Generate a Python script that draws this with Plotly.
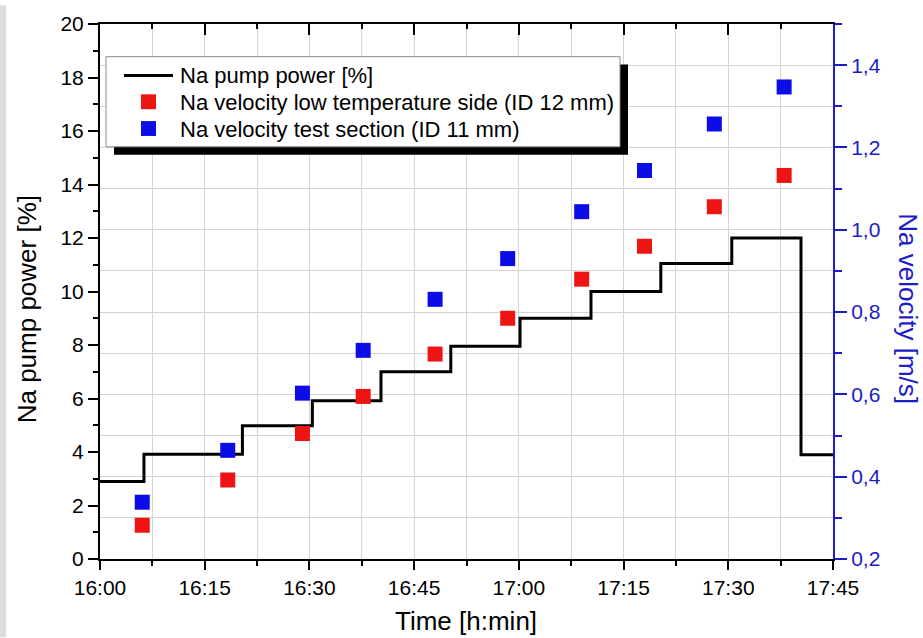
import plotly.graph_objects as go

DAY = "2016-01-01 "

# Pump power step signal (time of each level change, level in %)
pump_time = ["16:00:00", "16:06:18", "16:20:24", "16:30:25", "16:40:15", "16:50:15",
             "17:00:10", "17:10:20", "17:20:20", "17:30:30", "17:40:25", "17:45:00"]
pump_level = [2.9, 3.92, 4.98, 5.92, 7.0, 7.95, 9.0, 10.0, 11.05, 12.0, 3.9, 3.9]

# Velocity measurement times
vel_time = ["16:06:03", "16:18:18", "16:29:00", "16:37:42", "16:48:00",
            "16:58:24", "17:09:00", "17:18:00", "17:28:00", "17:38:00"]
vel_low_temp = [0.282, 0.392, 0.505, 0.595, 0.698, 0.785, 0.880, 0.960, 1.056, 1.132]
vel_test_sec = [0.338, 0.464, 0.603, 0.707, 0.831, 0.930, 1.044, 1.144, 1.257, 1.347]

x_ticks = ["16:00", "16:15", "16:30", "16:45", "17:00", "17:15", "17:30", "17:45"]

series_names = ["Na pump power [%]",
                "Na velocity low temperature side (ID 12 mm)",
                "Na velocity test section (ID 11 mm)"]

FONT = "Liberation Sans, Arial, sans-serif"
RED = "#ee1414"
BLUE = "#0c0ce6"
AXBLUE = "#1c1cc8"
GRID = "#d4d4d4"

pt = [DAY + t for t in pump_time]
vt = [DAY + t for t in vel_time]
xr = [DAY + "16:00:00", DAY + "17:45:00"]

fig = go.Figure()
fig.add_trace(go.Scatter(x=pt, y=pump_level, mode="lines", line=dict(color="black", width=3, shape="hv"),
                         name=series_names[0], yaxis="y", showlegend=False))
fig.add_trace(go.Scatter(x=vt, y=vel_low_temp, mode="markers",
                         marker=dict(symbol="square", size=15, color=RED),
                         name=series_names[1], yaxis="y2", showlegend=False))
fig.add_trace(go.Scatter(x=vt, y=vel_test_sec, mode="markers",
                         marker=dict(symbol="square", size=15, color=BLUE),
                         name=series_names[2], yaxis="y2", showlegend=False))
# helper trace so the top tick axis is drawn
fig.add_trace(go.Scatter(x=[], y=[], xaxis="x2", yaxis="y", showlegend=False, hoverinfo="skip"))

W, H = 923, 638
ML, MR, MT, MB = 100, 90, 19, 79
PW, PH = W - ML - MR, H - MT - MB


def px(xp):
    return (xp - ML) / PW


def py(yp):
    return (H - MB - yp) / PH


tickvals = [DAY + t + ":00" for t in x_ticks]

fig.update_layout(
    width=W, height=H,
    margin=dict(l=ML, r=MR, t=MT, b=MB),
    paper_bgcolor="white", plot_bgcolor="white",
    separators=",.",
    font=dict(family=FONT, size=21, color="black"),
    showlegend=False,
    xaxis=dict(type="date", range=xr, tickvals=tickvals, ticktext=x_ticks,
               ticks="outside", ticklen=9, tickwidth=2, tickcolor="black",
               showline=True, linecolor="black", linewidth=2,
               showgrid=True, gridcolor=GRID, gridwidth=1,
               minor=dict(dtick=450000, tick0=DAY + "16:00:00", ticks="outside", ticklen=5,
                          tickwidth=2, tickcolor="black", showgrid=True, gridcolor=GRID, gridwidth=1),
               tickfont=dict(size=21), zeroline=False),
    xaxis2=dict(type="date", range=xr, overlaying="x", side="top", anchor="y",
                tickvals=tickvals, showticklabels=False,
                ticks="inside", ticklen=11, tickwidth=2, tickcolor="black",
                showline=True, linecolor="black", linewidth=2, showgrid=False,
                minor=dict(dtick=450000, tick0=DAY + "16:00:00", ticks="inside", ticklen=5,
                           tickwidth=2, tickcolor="black", showgrid=False)),
    yaxis=dict(range=[0, 20], tick0=0, dtick=2, ticks="outside", ticklen=10, tickwidth=2,
               tickcolor="black", showline=True, linecolor="black", linewidth=2,
               showgrid=False, zeroline=False, tickfont=dict(size=21),
               minor=dict(dtick=1, ticks="outside", ticklen=5, tickwidth=2, tickcolor="black",
                          showgrid=False)),
    yaxis2=dict(range=[0.2, 1.5], tick0=0.2, dtick=0.2, tickformat=".1f", overlaying="y", side="right",
                ticks="outside", ticklen=12, tickwidth=2, tickcolor=AXBLUE,
                showline=True, linecolor=AXBLUE, linewidth=2,
                showgrid=True, gridcolor=GRID, gridwidth=1, zeroline=False,
                tickfont=dict(size=21, color=AXBLUE),
                minor=dict(dtick=0.1, tick0=0.2, ticks="outside", ticklen=7, tickwidth=2,
                           tickcolor=AXBLUE, showgrid=True, gridcolor=GRID, gridwidth=1)),
)

# ---- hand-drawn legend box (with drop shadow) ----
fig.add_shape(type="rect", xref="paper", yref="paper",
              x0=px(114), x1=px(628), y0=py(151), y1=py(60),
              fillcolor="black", line=dict(width=0), layer="above")
fig.add_shape(type="rect", xref="paper", yref="paper",
              x0=px(106), x1=px(620), y0=py(143), y1=py(52),
              fillcolor="white", line=dict(color="#8a8a8a", width=1), layer="above")
fig.add_shape(type="line", xref="paper", yref="paper",
              x0=px(124), x1=px(173), y0=py(71), y1=py(71),
              line=dict(color="black", width=3), layer="above")
fig.add_shape(type="rect", xref="paper", yref="paper",
              x0=px(141), x1=px(156), y0=py(105), y1=py(90),
              fillcolor=RED, line=dict(width=0), layer="above")
fig.add_shape(type="rect", xref="paper", yref="paper",
              x0=px(141), x1=px(156), y0=py(132), y1=py(117),
              fillcolor=BLUE, line=dict(width=0), layer="above")
for name, yc in zip(series_names, [71, 98, 125]):
    fig.add_annotation(text=name, xref="paper", yref="paper", x=px(178), y=py(yc),
                       xanchor="left", yanchor="middle", showarrow=False,
                       font=dict(size=22, color="black", family=FONT))

# gray strip at left edge of the picture
fig.add_shape(type="rect", xref="paper", yref="paper",
              x0=px(0), x1=px(6), y0=py(H), y1=py(0),
              fillcolor="#dcdcdc", line=dict(width=0), layer="below")

fig.add_annotation(text="Na pump power [%]", xref="paper", yref="paper",
                   x=px(27), y=py(307), textangle=-90, showarrow=False,
                   font=dict(size=26, color="black", family=FONT), xanchor="center", yanchor="middle")
fig.add_annotation(text="Na velocity [m/s]", xref="paper", yref="paper",
                   x=px(908), y=py(306), textangle=90, showarrow=False,
                   font=dict(size=26, color=AXBLUE, family=FONT), xanchor="center", yanchor="middle")
fig.add_annotation(text="Time [h:min]", xref="paper", yref="paper",
                   x=px(466), y=py(622), showarrow=False,
                   font=dict(size=26, color="black", family=FONT), xanchor="center", yanchor="middle")

fig.write_html("out.html", config={"displayModeBar": False},
               post_script="document.body.style.margin='0';document.body.style.overflow='hidden';")
